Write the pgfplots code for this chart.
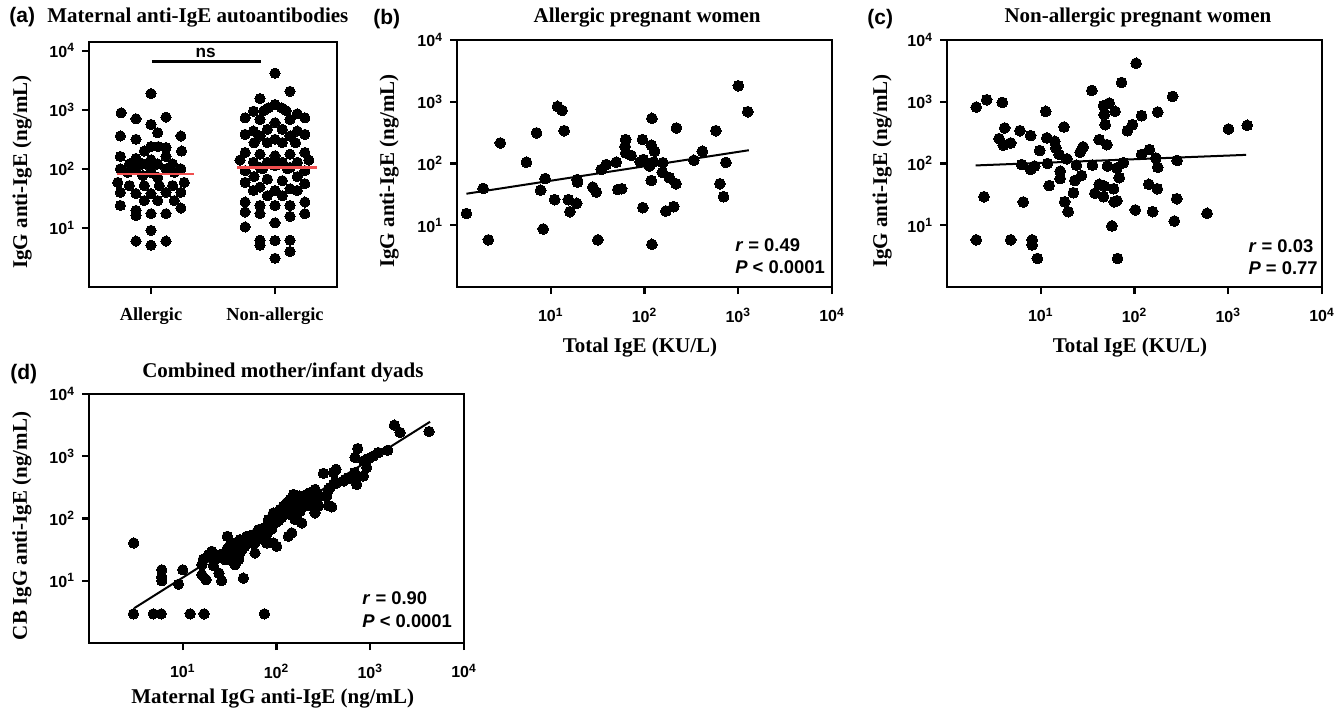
\documentclass[border=0pt]{standalone}
\usepackage{fontspec}
\setmainfont{Liberation Serif}
\setsansfont{Liberation Sans}
\usepackage{pgfplots}
\pgfplotsset{compat=1.18}
\definecolor{medred}{HTML}{F04E4E}

\pgfplotsset{
  panelbase/.style={
    scale only axis, clip=false, ymin=1, ymax=10000,
    ytick={10,100,1000,10000},
    yticklabels={10\textsuperscript{1},10\textsuperscript{2},10\textsuperscript{3},10\textsuperscript{4}},
    yminorticks=false, tick align=outside, tick pos=left,
    major tick length=3.5pt,
    axis line style={line width=1.1pt},
    major tick style={line width=1.1pt,black},
    tick label style={font=\sffamily\bfseries\fontsize{8}{9}\selectfont},
    xticklabel style={yshift=-3.5pt},
    label style={font=\rmfamily\bfseries\fontsize{10.5}{12}\selectfont},
    ylabel style={anchor=center},
    xlabel style={anchor=base},
  },
  panelscat/.style={panelbase, xmin=1, xmax=10000,
    xtick={10,100,1000,10000},
    xticklabels={10\textsuperscript{1},10\textsuperscript{2},10\textsuperscript{3},10\textsuperscript{4}},
    xminorticks=false, width=187.5pt, height=123.5pt},
  blackdots/.style={only marks, mark=*, mark size=#1,
    mark options={fill=black,draw=black,line width=0pt}},
  fitline/.style={black, line width=1pt, no marks},
}
\tikzset{
  ttlnode/.style={anchor=base, inner sep=0pt, font=\rmfamily\bfseries\fontsize{10.5}{12}\selectfont},
  statnode/.style={anchor=base west, inner sep=0pt, font=\sffamily\bfseries\fontsize{9.2}{10}\selectfont},
  letternode/.style={anchor=base west, inner sep=0pt, font=\sffamily\bfseries\fontsize{10.5}{12}\selectfont}}

\begin{document}
\begin{tikzpicture}
\path[use as bounding box] (0,0) rectangle (672pt,-356.5pt);

% (a) beeswarm
\begin{axis}[panelbase, ymode=log, at={(44.5pt,-143.5pt)}, anchor=south west,
  width=124pt, height=122.5pt, ymax=14000,
  xmin=0.5, xmax=2.5, xtick={1,2}, xticklabels={Allergic,Non-allergic},
  xticklabel style={font=\rmfamily\bfseries\fontsize{9.2}{10}\selectfont},
  ylabel={IgG anti-IgE (ng/mL)},
  ylabel style={at={(axis description cs:-0.27,0.47)}}]
\addplot[blackdots=2.55pt] coordinates {
(1.0,1875)(0.759,887)(0.879,703)(1.0,565)(1.121,750)(1.054,409)
(0.753,360)(0.879,316)(1.241,360)(1.0,238)(1.059,238)(1.121,229)(0.946,200)(1.247,200)
(0.753,162)(0.879,150)(1.121,162)(1.0,142)(0.826,121)(0.933,121)(1.054,121)(1.174,121)
(0.753,100)(0.879,100)(1.0,100)(1.121,100)(1.241,100)(0.812,87)(1.0,87)(1.188,87)
(0.933,77)(1.054,72)(0.732,59)(1.268,59)(0.826,52)(0.946,52)(1.067,52)(1.174,52)
(0.753,40)(0.879,38)(1.0,38)(1.121,40)(1.241,40)(0.946,29)(1.054,29)(1.188,29)
(0.753,24)(1.241,21.7)(0.879,19.8)(1.0,17.4)(1.121,17.4)(0.879,16.3)
(1.0,9.1)(0.879,6.0)(1.0,5.1)(1.121,6.0)};
\addplot[blackdots=2.55pt] coordinates {
(2.0,4160)(2.121,2050)(1.879,1545)(2.0,1225)(1.946,1077)(2.054,1077)
(1.826,946)(2.180,853)(1.91,960)(2.09,960)
(1.759,731)(1.879,686)(2.0,602)(2.121,686)(2.241,731)(1.938,466)(2.059,466)
(1.759,383)(1.879,360)(2.121,360)(2.241,383)(1.826,436)(2.180,436)
(2.0,316)(1.938,278)(2.059,278)(1.831,276)(2.166,276)
(1.759,189)(1.879,177)(2.0,166)(2.121,177)(2.241,189)(1.718,141)(2.273,141)
(1.826,129)(1.938,129)(2.059,129)(2.180,129)(1.879,106)(2.0,113)(2.121,106)
(1.97,120)(2.03,120)(1.9,100)(2.1,100)
(1.759,93)(2.241,93)(1.938,67)(2.059,63)(1.831,74)(2.180,74)(1.759,59)(2.241,56)
(1.879,49)(2.121,46)(1.826,43)(2.180,43)(2.0,43)(1.938,35)(2.059,35)
(1.759,27.4)(2.241,27.4)(1.879,24)(2.121,24)(2.0,24)
(1.759,18.6)(1.879,17.4)(2.241,17.4)(2.121,15.7)(2.0,12.2)(1.759,10.4)
(1.879,6.2)(1.879,5.1)(2.0,6.1)(2.121,6.2)(2.121,4.0)(2.0,3.06)};
\addplot[black, line width=1.6pt, no marks] coordinates {(1.008,6535)(1.885,6535)};
\node[anchor=base, font=\sffamily\bfseries\fontsize{8.6}{10}\selectfont] at (axis cs:1.44,7650) {ns};
\node[ttlnode, anchor=base west]
  at (rel axis cs:0,1) [xshift=-21pt, yshift=9.7pt] {Maternal anti-IgE autoantibodies};
\end{axis}
% medians drawn over the dots
\begin{axis}[scale only axis, hide axis, ymode=log, at={(44.5pt,-143.5pt)}, anchor=south west,
  width=124pt, height=122.5pt, ymin=1, ymax=14000, xmin=0.5, xmax=2.5]
\addplot[medred, line width=1.4pt, no marks] coordinates {(0.724,82)(1.343,82)};
\addplot[medred, line width=1.4pt, no marks] coordinates {(1.697,106)(2.340,106)};
\end{axis}

% (b)
\begin{axis}[panelscat, xmode=log, ymode=log, at={(228.5pt,-143.5pt)}, anchor=south west,
  xlabel={Total IgE (KU/L)}, ylabel={IgG anti-IgE (ng/mL)},
  xlabel style={at={(axis description cs:0.488,0)},yshift=-32.5pt},
  ylabel style={at={(axis description cs:-0.181,0.47)}}]
\addplot[blackdots=2.7pt] coordinates {
(1.26,15.5)(1.9,39.5)(2.16,5.8)(2.9,215)(5.5,105)(7.06,313)(7.8,37)(8.7,57)(8.3,8.7)
(11.0,26)(11.8,841)(13.2,724)(13.9,340)(15.4,26)(16.0,16.6)(19.1,55)(19.3,50)(18.9,22.6)
(28.1,41.5)(30.6,34.5)(31.8,5.8)(34.6,80)(39,96)(50,105)(52,38)(57,39)(63,244)(62,190)
(63,149)(72,135)(95,244)(90,106)(97,116)(96,19.3)(113,91)(118,53)(120,538)(118,198)
(128,158)(125,106)(120,4.9)(157,103)(155,72)(169,17)(184,59)(205,20)(217,47)(219,376)
(336,113)(414,158)(577,340)(637,47)(697,29)(739,104)(1003,1811)(1264,690)};
\addplot[fitline] coordinates {(1.26,32.4)(1297,164)};
\node[ttlnode] at (rel axis cs:0.507,1) [yshift=8.5pt] {Allergic pregnant women};
\node[statnode] at (rel axis cs:0.741,0.142) {\textit{r} = 0.49};
\node[statnode] at (rel axis cs:0.741,0.053) {\textit{P} < 0.0001};
\end{axis}

% (c)
\begin{axis}[panelscat, xmode=log, ymode=log, at={(473.5pt,-143.5pt)}, anchor=south west,
  xlabel={Total IgE (KU/L)}, ylabel={IgG anti-IgE (ng/mL)},
  xlabel style={at={(axis description cs:0.488,0)},yshift=-32.5pt},
  ylabel style={at={(axis description cs:-0.173,0.47)}}]
\addplot[blackdots=2.7pt] coordinates {
(2.05,820)(2.65,1077)(3.89,975)(2.05,5.8)(2.48,29)(3.59,253)(4.12,376)(3.99,198)(4.78,215)
(4.78,5.8)(6.0,340)(6.27,96)(6.5,23.8)(7.8,283)(7.8,80)(8.6,91)(8.1,5.8)(8.1,4.8)(9.2,2.9)
(9.75,162)(11.3,698)(11.6,260)(11.8,100)(12.3,44)(14.1,229)(14.5,179)(15.7,140)(16.1,75)
(16.1,57)(17.7,390)(19.0,119)(18.0,24)(19.6,16.6)(23.1,53)(24.0,94)(22.3,33.6)(26.3,152)
(28.3,186)(27.2,64)(35.1,1524)(35.6,94)(37.8,33)(42,244)(42,46)(46.7,861)(47.5,617)
(48.7,425)(47.5,43)(46.7,29)(50.7,202)(53.7,951)(62,698)(51.5,91)(57.4,9.75)(59.8,39)
(60.8,24)(65,25)(65,85)(68.7,59)(66,2.9)(72.8,2050)(76,103)(84,340)(95,425)(104,4200)
(102,17.7)(119,594)(119,140)(144,168)(142,46)(156,16.6)(169,123)(177,681)(175,39)(177,87)
(255,1220)(266,11.7)(282,26.9)(285,112)(594,15.6)(1005,362)(1592,415)};
\addplot[fitline] coordinates {(2.02,93)(1553,138)};
\node[ttlnode] at (rel axis cs:0.509,1) [yshift=8.5pt] {Non-allergic pregnant women};
\node[statnode] at (rel axis cs:0.803,0.138) {\textit{r} = 0.03};
\node[statnode] at (rel axis cs:0.803,0.049) {\textit{P} = 0.77};
\end{axis}

% (d)
\begin{axis}[panelscat, xmode=log, ymode=log, at={(44.5pt,-321.5pt)}, anchor=south west, height=124.5pt,
  xlabel={Maternal IgG anti-IgE (ng/mL)}, ylabel={CB IgG anti-IgE (ng/mL)},
  xlabel style={at={(axis description cs:0.49,0)},yshift=-30pt},
  ylabel style={at={(axis description cs:-0.179,0.47)}}]
\addplot[blackdots=2.6pt] coordinates {
(3.0,40.5)(2.98,2.94)(4.86,2.94)(5.9,2.94)(12,2.94)(16.9,2.94)(74.3,2.94)
(5.97,15.0)(5.97,11.5)(5.97,10)(10,15)(9.0,8.8)(16,18.1)(16,12.5)(17.7,10.4)
(16.6,22.3)(18.8,26.2)(20.4,29.7)(21.2,17.5)(24.3,13.3)(26,10)(22.1,21.8)(25,26.2)
(29.5,31.6)(29.9,51.9)(36.1,40.5)(32,21.8)(36.1,18.1)(39.3,21.8)(44.4,11)(34.7,35.8)
(40.9,45.8)(48.2,51.9)(54.4,40.5)(59,27.9)(66.8,51.9)(78.7,75)(92.7,40.5)(100.5,35.8)
(82,96)(92.7,123)(109,140)(128.6,179)(151.4,244)(145.3,58.8)(134,51.9)
(32,29.7)(34.7,31.6)(39.3,35.8)(43,40.5)(44.4,45.8)(48.2,40.5)(50.2,45.8)(52,51.9)
(56.7,49)(59,40.5)(54.4,45.8)(61.5,58.8)(69,62.5)(75.5,62.5)(85.4,85)(89,68)(78.7,55)
(92.7,96)(100.5,116)(109,131)(118.5,158)(128.6,123)(139.6,116)(151.4,140)(139.6,202)
(171,202)(193.6,229)(219,215)(237.6,244)(257.8,294)(201.6,158)(178.4,131)(164.3,116)
(157.7,96)(186,85)(291.5,229)(279.8,158)(257.8,123)(316.6,532)(404.5,546)(432,617)
(421.6,385)(372.7,313)(343.6,229)(358,162)(388,154)(538,425)(584,453)(661,425)(681,546)
(717,353)(845,482)(917,656)(689,951)(735,1330)(845,841)(955,916)(1080,1012)(1222,1146)
(1536,1250)(1807,3162)(2080,2412)(4236,2500)
(96.6,105)(104.7,92)(114,105)(124,131)(134,147)(145,167)(158,158)(171,167)(186,179)
(201,190)(219,179)(237,202)(246,158)(268,190)(280,229)(210,244)(228,260)(178,229)
(158,202)(128,147)(116,131)(105,123)(96.6,85)(85.4,68)(72,70)(66.8,58.8)(64,66)(78.7,66)
(69,52)(61.5,49)(56.7,55)(52,43)(46,36)(43,31.6)(37.7,29.7)(40,26)(34.7,24.7)(28.3,21.8)
(26.6,24.7)(32,38)(78.7,40.5)(72,46)(358,294)(404.5,353)(440,376)(520,400)};
\addplot[fitline] coordinates {(3.03,3.62)(4345,3580)};
\node[ttlnode] at (rel axis cs:0.517,1) [yshift=8pt] {Combined mother/infant dyads};
\node[statnode] at (rel axis cs:0.728,0.153) {\textit{r} = 0.90};
\node[statnode] at (rel axis cs:0.728,0.064) {\textit{P} < 0.0001};
\end{axis}

\node[letternode] at (4.5pt,-11.3pt) {(a)};
\node[letternode] at (186.5pt,-12pt) {(b)};
\node[letternode] at (433.5pt,-12pt) {(c)};
\node[letternode] at (5pt,-189.5pt) {(d)};
\end{tikzpicture}
\end{document}
